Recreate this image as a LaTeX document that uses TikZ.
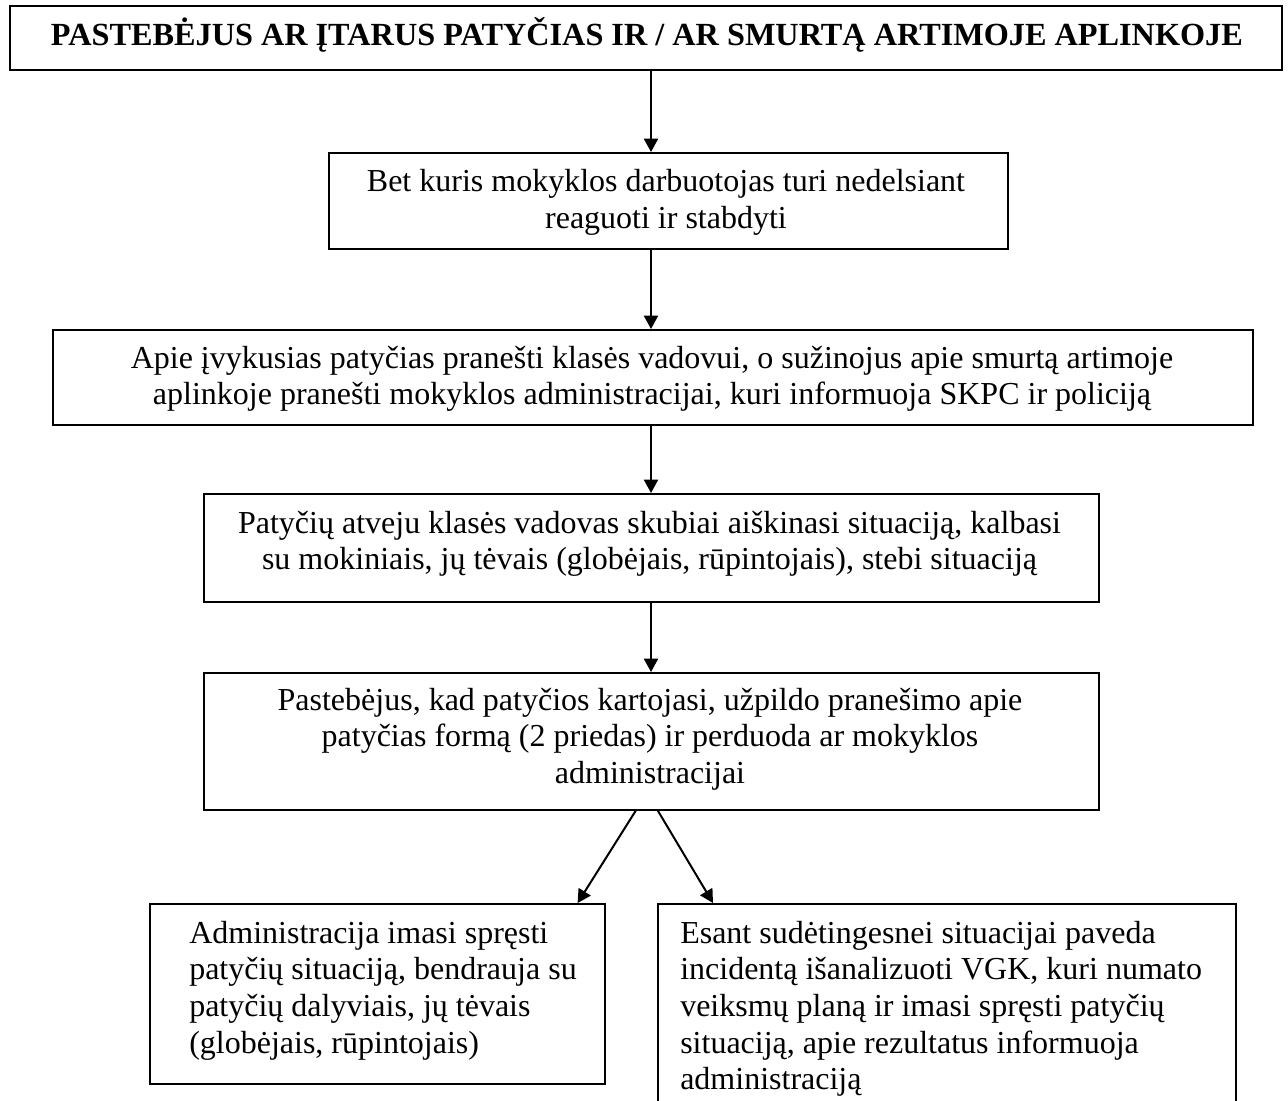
\documentclass[tikz,border=0pt]{standalone}
\usepackage{fontspec}
\setmainfont{Liberation Serif}
\usetikzlibrary{arrows.meta,calc}
\begin{document}
\begin{tikzpicture}[x=0.75pt,y=-0.75pt,
  box/.style={draw, line width=1.2pt, inner sep=0pt, anchor=north west},
  txt/.style={inner sep=0pt, font=\fontsize{24pt}{27.5pt}\selectfont},
  ctxt/.style={txt, align=center, anchor=north},
  ltxt/.style={txt, align=left, anchor=north west},
  arr/.style={line width=1.5pt, -{Triangle[length=10pt,width=10.5pt]}}]
\useasboundingbox (0,0) rectangle (1288,1100);
\clip (0,0) rectangle (1288,1100);
\fill[white] (0,0) rectangle (1288,1100);

% boxes
\node[box, minimum width=1272*0.75pt, minimum height=64*0.75pt] (b1) at (9,5) {};
\node[box, minimum width=679*0.75pt, minimum height=96*0.75pt] (b2) at (328,152) {};
\node[box, minimum width=1200*0.75pt, minimum height=95*0.75pt] (b3) at (52,329) {};
\node[box, minimum width=895*0.75pt, minimum height=108*0.75pt] (b4) at (203,493) {};
\node[box, minimum width=895*0.75pt, minimum height=137*0.75pt] (b5) at (203,672) {};
\node[box, minimum width=455*0.75pt, minimum height=180*0.75pt] (b6) at (149,903) {};
\node[box, minimum width=578*0.75pt, minimum height=227*0.75pt] (b7) at (657,903) {};

% texts
\node[txt, font=\fontsize{24.2pt}{28pt}\selectfont\bfseries, anchor=base] (t1) at (647,45)
  {PASTEBĖJUS AR ĮTARUS PATYČIAS IR / AR SMURTĄ ARTIMOJE APLINKOJE};
\node[ctxt] (t2) at (666,163.7)
  {\rule{0pt}{21pt}Bet kuris mokyklos darbuotojas turi nedelsiant\\reaguoti ir stabdyti};
\node[ctxt] (t3) at (652,340)
  {\rule{0pt}{21pt}Apie įvykusias patyčias pranešti klasės vadovui, o sužinojus apie smurtą artimoje\\aplinkoje pranešti mokyklos administracijai, kuri informuoja SKPC ir policiją};
\node[ctxt] (t4) at (649.5,505)
  {\rule{0pt}{21pt}Patyčių atveju klasės vadovas skubiai aiškinasi situaciją, kalbasi\\su mokiniais, jų tėvais (globėjais, rūpintojais), stebi situaciją};
\node[ctxt] (t5) at (650,682)
  {\rule{0pt}{21pt}Pastebėjus, kad patyčios kartojasi, užpildo pranešimo apie\\patyčias formą (2 priedas) ir perduoda ar mokyklos\\administracijai};
\node[ltxt] (t6) at (189,915)
  {\rule{0pt}{21pt}Administracija imasi spręsti\\patyčių situaciją, bendrauja su\\patyčių dalyviais, jų tėvais\\(globėjais, rūpintojais)};
\node[ltxt] (t7) at (680,915)
  {\rule{0pt}{21pt}Esant sudėtingesnei situacijai paveda\\incidentą išanalizuoti VGK, kuri numato\\veiksmų planą ir imasi spręsti patyčių\\situaciją, apie rezultatus informuoja\\administraciją};

% connectors
\coordinate (ax) at (651,0);
\draw[arr] (b1.south -| ax) -- (b2.north -| ax);
\draw[arr] (b2.south -| ax) -- (b3.north -| ax);
\draw[arr] (b3.south -| ax) -- (b4.north -| ax);
\draw[arr] (b4.south -| ax) -- (b5.north -| ax);
\draw[arr] ($(b5.south)+(-15.5,0)$) -- ($(b6.north east)+(-28,0)$);
\draw[arr] ($(b5.south)+(6.5,0)$) -- ($(b7.north west)+(56,0)$);
\end{tikzpicture}
\end{document}
